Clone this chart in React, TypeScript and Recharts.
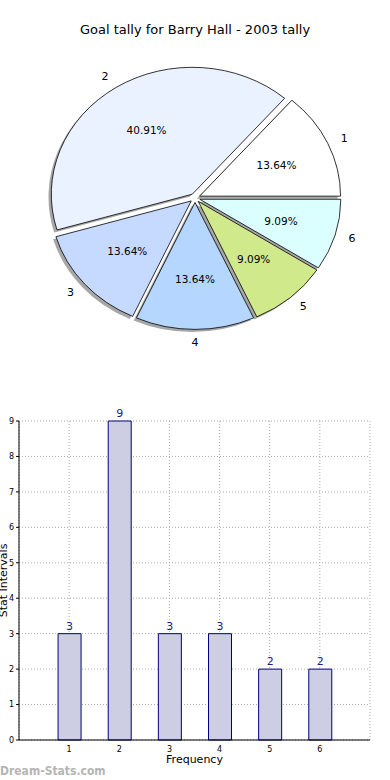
import React from 'react';
import {
  PieChart,
  Pie,
  Cell,
  BarChart,
  Bar,
  XAxis,
  YAxis,
  CartesianGrid,
  LabelList
} from 'recharts';

// goals per match (category) and how often each happened
const sliceNames = ['1', '2', '3', '4', '5', '6'];
const tallies = [3, 9, 3, 3, 2, 2];
const barX = [1, 2, 3, 4, 5, 6];
const yTicks = [0, 1, 2, 3, 4, 5, 6, 7, 8, 9];

const sliceColors = ['#ffffff', '#eaf2ff', '#c6d9ff', '#b4d6ff', '#d0ea8b', '#dbffff'];

const FONT = '"DejaVu Sans", sans-serif';
const Y_RATIO = 0.9; // pie is squashed like the original
const EXPLODE = 5;
const RAD = Math.PI / 180;

const pieData = sliceNames.map((name, i) => ({ name, value: tallies[i] }));
const barData = barX.map((x, i) => ({ x, count: tallies[i] }));

const wedgeOrigin = (cx: number, cy: number, start: number, end: number) => {
  const mid = ((start + end) / 2) * RAD;
  return [cx + EXPLODE * Math.cos(mid), cy - EXPLODE * Y_RATIO * Math.sin(mid)];
};

const wedgePath = (cx: number, cy: number, r: number, start: number, end: number, dx = 0, dy = 0) => {
  const rx = r;
  const ry = r * Y_RATIO;
  const [ox0, oy0] = wedgeOrigin(cx, cy, start, end);
  const ox = ox0 + dx;
  const oy = oy0 + dy;
  const x1 = ox + rx * Math.cos(start * RAD);
  const y1 = oy - ry * Math.sin(start * RAD);
  const x2 = ox + rx * Math.cos(end * RAD);
  const y2 = oy - ry * Math.sin(end * RAD);
  const large = Math.abs(end - start) > 180 ? 1 : 0;
  return `M${ox},${oy} L${x1},${y1} A${rx},${ry} 0 ${large} 0 ${x2},${y2} Z`;
};

const ShadowWedge = (props: any) => {
  const { cx, cy, outerRadius, startAngle, endAngle } = props;
  return (
    <path
      d={wedgePath(cx, cy, outerRadius, startAngle, endAngle, -2.8, 2.6)}
      fill="#4d4d4d"
      fillOpacity={0.5}
      stroke="none"
    />
  );
};

const Wedge = (props: any) => {
  const { cx, cy, outerRadius, startAngle, endAngle, fill } = props;
  return (
    <path
      d={wedgePath(cx, cy, outerRadius, startAngle, endAngle)}
      fill={fill}
      stroke="#000"
      strokeWidth={0.8}
    />
  );
};

const renderPieLabel = (props: any) => {
  const { cx, cy, midAngle, outerRadius, percent, name, startAngle, endAngle } = props;
  const [ox, oy] = wedgeOrigin(cx, cy, startAngle, endAngle);
  const c = Math.cos(midAngle * RAD);
  const s = Math.sin(midAngle * RAD);
  const rx = outerRadius;
  const ry = outerRadius * Y_RATIO;
  const anchor = Math.abs(c) < 0.01 ? 'middle' : c > 0 ? 'start' : 'end';
  return (
    <g>
      <text
        x={ox + 1.1 * rx * c}
        y={oy - 1.1 * ry * s}
        textAnchor={anchor}
        dominantBaseline="central"
        fontSize={11}
        fontFamily={FONT}
        fill="#000"
      >
        {name}
      </text>
      <text
        x={ox + 0.6 * rx * c}
        y={oy - 0.6 * ry * s}
        textAnchor="middle"
        dominantBaseline="central"
        fontSize={10.5}
        fontFamily={FONT}
        fill="#000"
      >
        {(percent * 100).toFixed(2) + '%'}
      </text>
    </g>
  );
};

const App: React.FC = () => {
  return (
    <div
      style={{
        position: 'absolute',
        left: 0,
        top: 0,
        width: 390,
        height: 780,
        background: '#fff',
        fontFamily: FONT,
        overflow: 'hidden'
      }}
    >
      <div
        style={{
          position: 'absolute',
          top: 22,
          left: 0,
          width: 390,
          textAlign: 'center',
          fontSize: 13,
          lineHeight: '16px',
          color: '#000'
        }}
      >
        Goal tally for Barry Hall - 2003 tally
      </div>

      <div style={{ position: 'absolute', top: 0, left: 0 }}>
        <PieChart width={390} height={390} margin={{ top: 0, right: 0, bottom: 0, left: 0 }}>
          <Pie
            data={pieData}
            dataKey="value"
            nameKey="name"
            cx={195}
            cy={198}
            outerRadius={141}
            startAngle={0}
            endAngle={360}
            shape={ShadowWedge}
            inactiveShape={ShadowWedge}
            activeShape={ShadowWedge}
            isAnimationActive={false}
          />
          <Pie
            data={pieData}
            dataKey="value"
            nameKey="name"
            cx={195}
            cy={198}
            outerRadius={141}
            startAngle={0}
            endAngle={360}
            shape={Wedge}
            inactiveShape={Wedge}
            activeShape={Wedge}
            label={renderPieLabel}
            labelLine={false}
            isAnimationActive={false}
          >
            {pieData.map((d, i) => (
              <Cell key={d.name} fill={sliceColors[i]} />
            ))}
          </Pie>
        </PieChart>
      </div>

      <div style={{ position: 'absolute', top: 400, left: 0 }}>
        <BarChart width={390} height={380} data={barData} margin={{ top: 21, right: 20, left: 0, bottom: 0 }}>
          <Bar dataKey="count" fill="#cdcde3" stroke="#000080" strokeWidth={1} barSize={23} isAnimationActive={false}>
            <LabelList dataKey="count" position="top" offset={4} fill="#1a1a8c" fontSize={11} fontFamily={FONT} />
          </Bar>
          <CartesianGrid stroke="#aaaaaa" strokeDasharray="1 2" />
          <XAxis
            dataKey="x"
            type="number"
            domain={[0, 7]}
            ticks={barX}
            height={40}
            tickLine={false}
            tickMargin={0}
            axisLine={{ stroke: '#000' }}
            tick={{ fontSize: 8, fill: '#000', fontFamily: FONT }}
            label={{ value: 'Frequency', position: 'insideTop', offset: 15, fontSize: 11, fill: '#000', fontFamily: FONT }}
          />
          <XAxis xAxisId="top" orientation="top" type="number" domain={[0, 7]} height={0} tick={false} tickLine={false} axisLine={{ stroke: '#000' }} />
          <YAxis
            type="number"
            domain={[0, 9]}
            ticks={yTicks}
            width={19}
            tickSize={3}
            tickMargin={2}
            interval={0}
            axisLine={{ stroke: '#000' }}
            tickLine={{ stroke: '#000' }}
            tick={{ fontSize: 8, fill: '#000', fontFamily: FONT }}
            label={{ value: 'Stat Intervals', angle: -90, position: 'center', dx: -6, fontSize: 11, fill: '#000', fontFamily: FONT }}
          />
          <YAxis yAxisId="right" orientation="right" domain={[0, 9]} width={0} tick={false} tickLine={false} axisLine={{ stroke: '#000' }} />
        </BarChart>
      </div>

      <div
        style={{
          position: 'absolute',
          left: 0,
          top: 763,
          fontSize: 12,
          fontWeight: 'bold',
          fontFamily: '"DejaVu Sans Condensed", "DejaVu Sans", sans-serif',
          color: '#b5b5b5',
          lineHeight: '16px'
        }}
      >
        Dream-Stats.com
      </div>
    </div>
  );
};

export default App;
